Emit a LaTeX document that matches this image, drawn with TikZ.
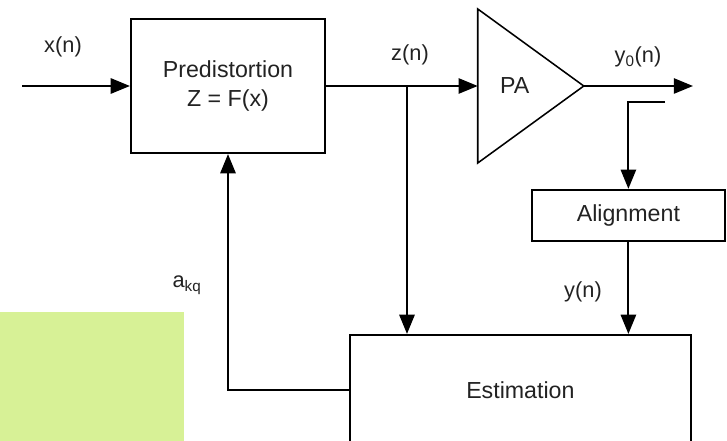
\documentclass[tikz,border=0pt]{standalone}
\usepackage{fontspec}
\setmainfont{Liberation Sans}
\usetikzlibrary{arrows.meta, positioning, shapes.geometric}
\definecolor{ink}{HTML}{222222}
\definecolor{lime}{HTML}{D7F196}

\begin{document}
\begin{tikzpicture}[font=\fontsize{16.5}{21}\selectfont, text=ink,
  block/.style={rectangle, draw=black, line width=1.5pt, inner sep=0pt},
  amp/.style={isosceles triangle, isosceles triangle stretches, draw=black,
    line width=1.1pt, minimum width=3.85cm, minimum height=2.65cm,
    inner sep=0pt, outer sep=0pt},
  sig/.style={line width=1.5pt, -{Triangle[length=4.8mm, width=3.8mm]}},
  lbl/.style={font=\fontsize{15.5}{18}\selectfont}]
  \clip (0,0) rectangle (18.175,11.025);
  \fill[lime] (0,0) rectangle (4.6,3.225);
  % blocks
  \node[block, minimum width=4.85cm, minimum height=3.35cm, align=center]
    (pre) at (5.7,8.875) {Predistortion\\Z = F(x)};
  \node[amp] (pa) at (12.925,8.875) {};
  \node (palbl) at ([xshift=0.925cm]pa.west) {PA};
  \node[block, minimum width=4.825cm, minimum height=1.275cm]
    (al) at (15.71,5.64) {Alignment};
  \node[block, minimum width=8.525cm, minimum height=2.75cm]
    (est) at (13.01,1.275) {Estimation};
  % points
  \coordinate (in) at (0.55,8.875);
  \coordinate (br) at (10.175,8.875);
  \coordinate (out) at (17.325,8.875);
  \coordinate (tap) at (16.625,8.475);
  % signals
  \draw[sig] (in) -- (pre.west);
  \draw[sig] (pre.east) -- (pa.west);
  \draw[sig] (br) -- (br |- est.north);
  \draw[sig] (pa.east) -- (out);
  \draw[sig] (tap) -| (al.north);
  \draw[sig] (al.south) -- (al.south |- est.north);
  \draw[sig] (est.west) -| (pre.south);
  % labels
  \node[lbl] (xn) at (1.575,9.85) {x(n)};
  \node[lbl] (zn) at (10.25,9.65) {z(n)};
  \node[lbl] (yon) at (15.95,9.6) {y\textsubscript{0}(n)};
  \node[lbl] (yn) at (14.575,3.725) {y(n)};
  \node[lbl] (akq) at (4.675,3.9) {a\textsubscript{kq}};
\end{tikzpicture}
\end{document}
